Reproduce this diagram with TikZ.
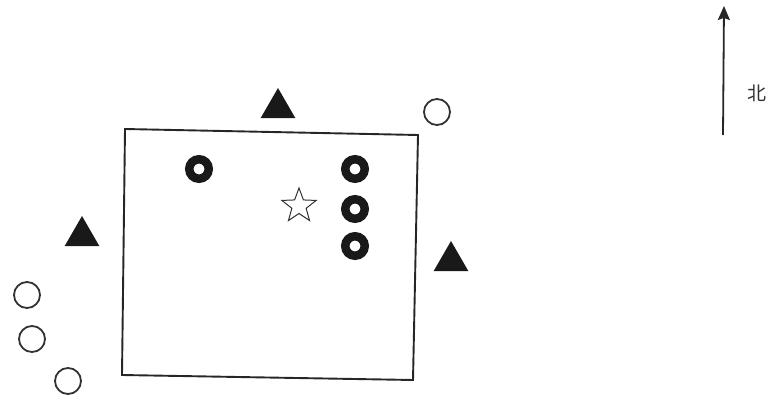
\documentclass[tikz,border=0pt]{standalone}
\usepackage{fontspec}
\newfontfamily\cjk{Noto Sans CJK SC}
\usetikzlibrary{arrows.meta,shapes.geometric}
\tikzset{
  >={Stealth[length=14pt,width=12pt,inset=2pt]},
  ring/.style={draw=black!90, circle, line width=8.5pt, minimum size=19.5pt, inner sep=0pt},
  hole/.style={draw=black!80, circle, line width=1.8pt, minimum size=26pt, inner sep=0pt},
  tri/.style={fill=black!90, regular polygon, regular polygon sides=3, minimum size=40pt, inner sep=0pt},
  starmark/.style={draw=black!80, star, star points=5, star point ratio=2.4, line width=1pt, minimum size=36pt, inner sep=0pt},
  plot/.style={draw=black!85, line width=1.9pt},
}
\begin{document}
\begin{tikzpicture}[x=1pt,y=-1pt]
  \useasboundingbox (0,0) rectangle (771,396);
  % plot outline
  \coordinate (nw) at (125,129);
  \coordinate (ne) at (418,135);
  \coordinate (se) at (413,380);
  \coordinate (sw) at (122,375);
  \draw[plot] (nw) -- (ne) -- (se) -- (sw) -- cycle;
  % markers
  \node[ring] (r1) at (199,169) {};
  \node[ring] (r2) at (355,169) {};
  \node[ring] (r3) at (355,209) {};
  \node[ring] (r4) at (355,246) {};
  \node[starmark] (st) at (299,206) {};
  \node[tri] (t1) at (278,108) {};
  \node[tri] (t2) at (82,236) {};
  \node[tri] (t3) at (451,261) {};
  \node[hole] (c1) at (437,112) {};
  \node[hole] (c2) at (27,295) {};
  \node[hole] (c3) at (32,339) {};
  \node[hole] (c4) at (68,381) {};
  % north arrow
  \coordinate (s0) at (723,135);
  \coordinate (s1) at (724,6);
  \draw[->, line width=1.8pt, black!85] (s0) -- (s1);
  \node[font=\fontsize{19}{19}\selectfont\cjk, text=black!80] (north) at (757,93) {北};
\end{tikzpicture}
\end{document}
